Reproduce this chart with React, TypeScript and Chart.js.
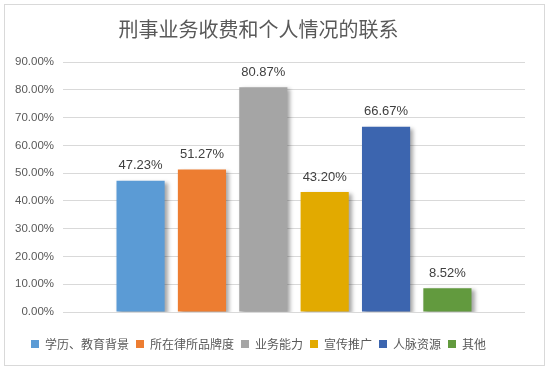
import React, { useEffect, useRef } from "react";
import { Chart, registerables } from "chart.js";

Chart.register(...registerables);

const title = "刑事业务收费和个人情况的联系";
const seriesNames = ["学历、教育背景", "所在律所品牌度", "业务能力", "宣传推广", "人脉资源", "其他"];
const seriesValues = [47.23, 51.27, 80.87, 43.2, 66.67, 8.52];
const seriesColors = ["#5B9BD5", "#ED7D31", "#A5A5A5", "#E2AA00", "#3C65AF", "#629A3E"];
const yMin = 0;
const yMax = 90;
const yStep = 10;

const shadowPlugin = {
  id: "barShadow",
  beforeDatasetsDraw(chart: any) {
    const ctx = chart.ctx;
    ctx.save();
    ctx.shadowColor = "rgba(0,0,0,0.35)";
    ctx.shadowBlur = 4;
    ctx.shadowOffsetX = 3;
    ctx.shadowOffsetY = 2;
  },
  afterDatasetsDraw(chart: any) {
    chart.ctx.restore();
  },
};

const labelPlugin = {
  id: "valueLabels",
  afterDatasetsDraw(chart: any) {
    const ctx = chart.ctx;
    ctx.save();
    ctx.font = "13px 'Liberation Sans', Arial, sans-serif";
    ctx.fillStyle = "#404040";
    ctx.textAlign = "center";
    ctx.textBaseline = "middle";
    chart.data.datasets.forEach((ds: any, i: number) => {
      const meta = chart.getDatasetMeta(i);
      meta.data.forEach((bar: any, j: number) => {
        const v = ds.data[j] as number;
        ctx.fillText(v.toFixed(2) + "%", bar.x, bar.y - 15);
      });
    });
    ctx.restore();
  },
};

const shiftPlugin = {
  id: "shiftCenter",
  afterLayout(chart: any) {
    if (chart.titleBlock) chart.titleBlock.right -= 14;
    if (chart.legend) chart.legend.right -= 14;
  },
};

export default function App() {
  const ref = useRef<HTMLCanvasElement | null>(null);
  useEffect(() => {
    if (!ref.current) return;
    const chart = new Chart(ref.current, {
      type: "bar",
      data: {
        labels: [""],
        datasets: seriesNames.map((name, i) => ({
          label: name,
          data: [seriesValues[i]],
          backgroundColor: seriesColors[i],
          borderWidth: 0,
          categoryPercentage: 0.797,
          barPercentage: 0.785,
        })),
      },
      options: {
        animation: false,
        responsive: false,
        maintainAspectRatio: false,
        layout: { padding: { left: 1, right: 19, top: 0, bottom: 5 } },
        plugins: {
          title: {
            display: true,
            text: title,
            color: "#595959",
            font: { family: "'Noto Sans CJK SC', sans-serif", size: 20, weight: "normal" },
            padding: { top: 12, bottom: 21 },
          },
          legend: {
            display: true,
            position: "bottom",
            labels: {
              boxWidth: 8,
              boxHeight: 8,
              padding: 7,
              color: "#595959",
              font: { family: "'Noto Sans CJK SC', sans-serif", size: 12 },
            },
          },
          tooltip: { enabled: false },
        },
        scales: {
          x: {
            grid: { display: false },
            ticks: { display: false },
            border: { display: false },
            afterFit: (scale: any) => {
              scale.height = 19;
            },
          },
          y: {
            min: yMin,
            max: yMax,
            grid: { color: "#D9D9D9", drawTicks: false },
            border: { display: false },
            ticks: {
              stepSize: yStep,
              padding: 9,
              color: "#595959",
              font: { family: "'Liberation Sans', Arial, sans-serif", size: 11.5 },
              callback: (v: any) => Number(v).toFixed(2) + "%",
            },
          },
        },
      },
      plugins: [shadowPlugin, labelPlugin, shiftPlugin],
    });
    return () => chart.destroy();
  }, []);
  return (
    <div
      style={{
        position: "absolute",
        left: 4,
        top: 4,
        width: 541,
        height: 362,
        boxSizing: "border-box",
        border: "1px solid #D9D9D9",
        background: "#fff",
      }}
    >
      <canvas ref={ref} width={539} height={360} style={{ display: "block" }} />
    </div>
  );
}
